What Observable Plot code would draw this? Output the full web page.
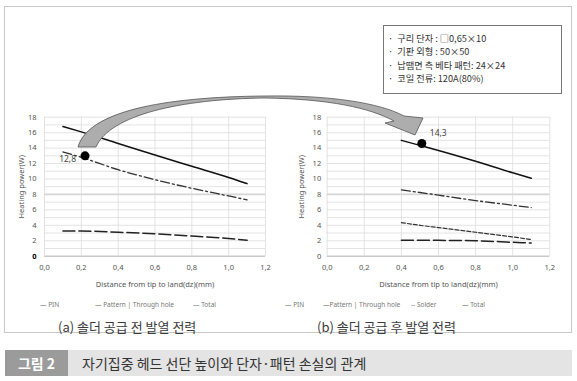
<!DOCTYPE html>
<html><head><meta charset="utf-8">
<script src="https://cdn.jsdelivr.net/npm/d3@7"></script>
<script src="https://cdn.jsdelivr.net/npm/@observablehq/plot@0.6"></script>
<style>
body{margin:0;background:#fff;font-family:"Noto Sans","Noto Sans CJK KR",sans-serif;}
#wrap{position:relative;width:577px;height:381px;overflow:hidden;}
.abs{position:absolute;}
#frame{left:4px;top:6px;width:568px;height:327px;border:1px solid #c8c8c8;box-sizing:border-box;}
#info{left:383px;top:25px;width:179px;height:69px;border:1px solid #777;box-sizing:border-box;background:#fff;font-family:"Noto Sans CJK KR",sans-serif;font-size:9.2px;color:#333;padding:6px 0 0 4px;}
#info div{height:13.4px;line-height:13.4px;white-space:nowrap;}
.leg{font-size:6.5px;color:#777;white-space:nowrap;font-family:"Noto Sans",sans-serif;}
.sub{font-family:"Noto Sans CJK KR",sans-serif;font-size:13px;color:#3a3a3a;white-space:nowrap;}
#capL{left:5px;top:350px;width:63px;height:26px;background:#9b9b9b;color:#fff;font-family:"Noto Sans CJK KR",sans-serif;font-weight:bold;font-size:14px;line-height:26px;text-align:center;}
#capR{left:68px;top:350px;width:504px;height:26px;background:#e4e4e4;color:#333;font-family:"Noto Sans CJK KR",sans-serif;font-size:14px;line-height:26px;padding-left:14px;box-sizing:border-box;}
svg text{font-family:"Noto Sans",sans-serif;}
</style></head>
<body><div id="wrap">
<div id="frame" class="abs"></div>
<div id="plotA" class="abs" style="left:0;top:100px"></div>
<div id="plotB" class="abs" style="left:290px;top:100px"></div>
<svg class="abs" style="left:0;top:0" width="577" height="381">
<path d="M78,147 C88,112 160,97 265,96 C330,95 380,103 404,116 L423,118 L415,135 L385,123 L394,121 C370,108 330,99 265,98 C180,99 110,115 96,147 Z" fill="#adadad" stroke="#555" stroke-width="0.8"/>
</svg>
<div id="info" class="abs">
<div>· &nbsp;구리 단자 : □0,65×10</div>
<div>· &nbsp;기판 외형 : 50×50</div>
<div>· &nbsp;납땜면 측 베타 패턴: 24×24</div>
<div>· &nbsp;코일 전류: 120A(80%)</div>
</div>
<div class="abs leg" style="left:40px;top:300px">— PIN</div>
<div class="abs leg" style="left:95px;top:300px">— Pattern | Through hole</div>
<div class="abs leg" style="left:193px;top:300px">— Total</div>
<div class="abs leg" style="left:285px;top:300px">— PIN</div>
<div class="abs leg" style="left:323px;top:300px">—Pattern | Through hole</div>
<div class="abs leg" style="left:411px;top:300px">-- Solder</div>
<div class="abs leg" style="left:462px;top:300px">— Total</div>
<div class="abs sub" style="left:58px;top:317px">(a) 솔더 공급 전 발열 전력</div>
<div class="abs sub" style="left:317px;top:317px">(b) 솔더 공급 후 발열 전력</div>
<div id="capL" class="abs">그림 2</div>
<div id="capR" class="abs">자기집중 헤드 선단 높이와 단자·패턴 손실의 관계</div>
</div>
<script>
// ---- data ----
const xTicks = [0, 0.2, 0.4, 0.6, 0.8, 1.0, 1.2];
const yTicks = [0, 2, 4, 6, 8, 10, 12, 14, 16, 18];

const xA = [0.1, 0.2, 0.4, 0.6, 0.8, 1.0, 1.1];
const totalA = [16.8, 16.1, 14.6, 13.1, 11.65, 10.2, 9.4];
const patternA = [13.5, 12.8, 11.2, 9.9, 8.8, 7.8, 7.3];
const pinA = [3.25, 3.25, 3.1, 2.9, 2.6, 2.3, 2.05];
const markerA = {x: 0.22, y: 13.0, label: "12,8"};

const xB = [0.4, 0.5, 0.6, 0.8, 1.0, 1.1];
const totalB = [15.0, 14.35, 13.7, 12.3, 10.8, 10.1];
const patternB = [8.6, 8.25, 7.9, 7.2, 6.6, 6.3];
const solderB = [4.35, 4.0, 3.7, 3.1, 2.5, 2.15];
const pinB = [2.05, 2.05, 2.05, 2.0, 1.8, 1.7];
const markerB = {x: 0.51, y: 14.6, label: "14,3"};

const series = {
  Total: {stroke: "#111", strokeWidth: 1.5, dash: null},
  Pattern: {stroke: "#333", strokeWidth: 1.3, dash: "9,3,2,3"},
  Solder: {stroke: "#333", strokeWidth: 1.2, dash: "4,2"},
  PIN: {stroke: "#222", strokeWidth: 1.5, dash: "12,4"}
};

const fmt = d => d.toFixed(1).replace(".", ",");
const gridY = d3.range(0, 19, 1);

function chart(xs, lines, marker, opts) {
  const marks = [
    Plot.ruleY(gridY, {stroke: "#dcdcdc", strokeWidth: 0.8}),
    Plot.ruleX(xTicks, {stroke: "#dcdcdc", strokeWidth: 0.8}),
    Plot.ruleY([8], {stroke: "#d6d6d6", strokeWidth: 1.6}),
    Plot.ruleY([0], {stroke: "#bbb", strokeWidth: 1}),
    Plot.axisX({ticks: xTicks, tickFormat: fmt, tickSize: 0, tickPadding: 8, fontSize: 7.5, color: "#555",
      label: "Distance from tip to land(dz)(mm)", labelAnchor: "center", labelArrow: "none", labelOffset: 31}),
    Plot.axisY({ticks: yTicks, tickSize: 0, tickPadding: opts.tickPad, fontSize: 7.5, color: "#555",
      label: "Heating power(W)", labelAnchor: "center", labelArrow: "none", labelOffset: opts.labelOff})
  ];
  for (const [name, ys] of lines) {
    const s = series[name];
    const data = xs.map((x, i) => ({x, y: ys[i]}));
    marks.push(Plot.line(data, {x: "x", y: "y", stroke: s.stroke, strokeWidth: s.strokeWidth, strokeDasharray: s.dash, curve: "monotone-x"}));
  }
  marks.push(Plot.dot([marker], {x: "x", y: "y", r: 4.5, fill: "#000"}));
  marks.push(Plot.text([marker], {x: "x", y: "y", text: "label", dx: opts.ldx, dy: opts.ldy, textAnchor: opts.anchor, fontSize: 8.5, fill: "#444"}));
  return Plot.plot({
    width: opts.width, height: 200,
    marginLeft: opts.ml, marginRight: opts.mr, marginTop: 16.7, marginBottom: 44.3,
    x: {domain: [0, 1.2]},
    y: {domain: [0, 18]},
    style: {background: "transparent", color: "#444"},
    marks
  });
}

const a = chart(xA, [["Total", totalA], ["Pattern", patternA], ["PIN", pinA]], markerA,
  {width: 290, ml: 44, mr: 25, tickPad: 8, labelOff: 26, ldx: -9, ldy: 3, anchor: "end"});
document.getElementById("plotA").append(a);
const b = chart(xB, [["Total", totalB], ["Pattern", patternB], ["Solder", solderB], ["PIN", pinB]], markerB,
  {width: 287, ml: 36.7, mr: 27.7, tickPad: 6, labelOff: 29, ldx: 8, ldy: -10, anchor: "start"});
document.getElementById("plotB").append(b);

// bold "0" on left chart's y axis
const ya = a.querySelectorAll('[aria-label="y-axis tick label"] text');
if (ya.length) { ya[0].setAttribute("font-weight", "bold"); ya[0].setAttribute("fill", "#000"); }
</script>
</body></html>
